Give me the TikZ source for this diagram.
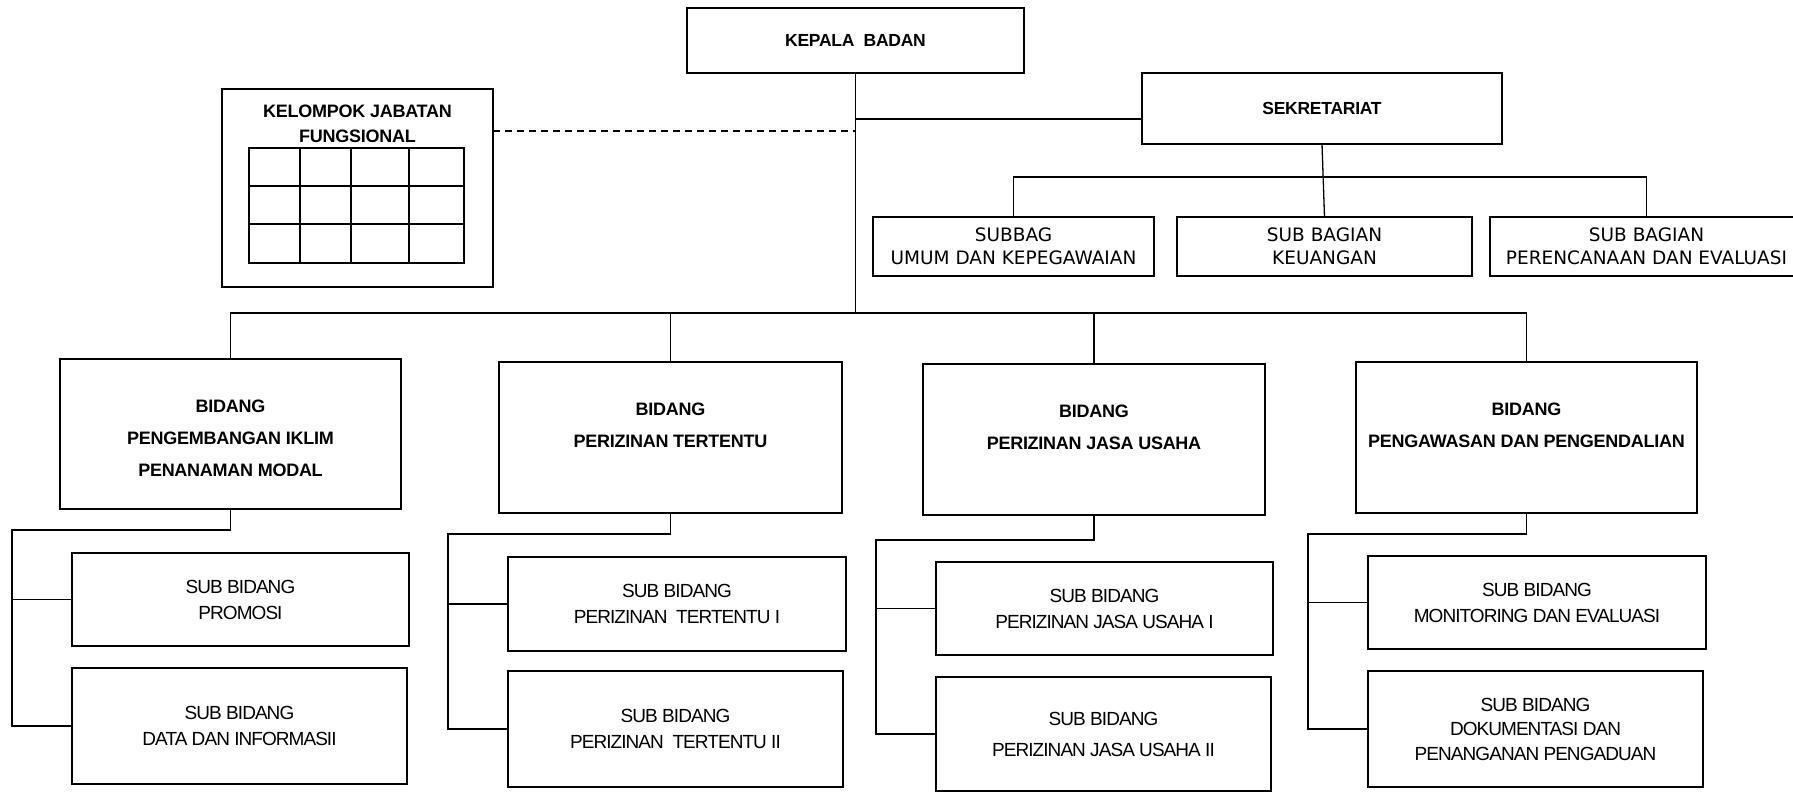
\documentclass[tikz,border=0pt]{standalone}
\usepackage{fontspec}
\setmainfont{Liberation Sans}
\newfontfamily\boldsans{Liberation Sans}[LetterSpace=-1.5]
\newfontfamily\narrowsans{Liberation Sans}[LetterSpace=-5]
\newfontfamily\verasans{DejaVu Sans}
\usetikzlibrary{positioning}

\tikzset{
  headbox/.style={draw, line width=2pt, inner sep=0pt, outer sep=0pt,
    font=\boldsans\bfseries\fontsize{17.5}{21}\selectfont},
  bidbox/.style={draw, line width=2pt, inner sep=0pt, outer sep=0pt},
  bidtext/.style={inner sep=0pt, outer sep=0pt, align=center,
    font=\boldsans\bfseries\fontsize{18}{32}\selectfont},
  kjftext/.style={inner sep=0pt, outer sep=0pt, align=center,
    font=\boldsans\bfseries\fontsize{18}{25}\selectfont},
  bagbox/.style={draw, line width=1.7pt, inner sep=0pt, outer sep=0pt,
    minimum height=59pt, align=center,
    font=\verasans\fontsize{18.5}{23}\selectfont},
  subbox/.style={draw, line width=1.5pt, inner sep=0pt, outer sep=0pt,
    align=center, font=\narrowsans\fontsize{19}{26}\selectfont},
  conn/.style={line width=1.3pt},
  gridline/.style={line width=1.2pt}
}

\begin{document}
\begin{tikzpicture}[x=1pt, y=-1pt]
  \clip (0,0) rectangle (1793,792);

  % pimpinan dan sekretariat
  \node[headbox, minimum width=337pt, minimum height=65pt] (kepala) at (855.5,40.5) {KEPALA~~BADAN};
  \node[headbox, minimum width=360pt, minimum height=71pt] (sekre) at (1322,108.5) {SEKRETARIAT};

  % kelompok jabatan fungsional
  \node[bidbox, minimum width=271pt, minimum height=198pt] (kjf) at (357.5,188) {};
  \node[kjftext, below=15.5pt of kjf.north] (kjflabel) {KELOMPOK JABATAN\\FUNGSIONAL};
  \draw[gridline] (249,148) rectangle (464,263);
  \foreach \x in {300,351,409}
    \draw[gridline] (\x,148) -- (\x,263);
  \foreach \y in {186,224}
    \draw[gridline] (249,\y) -- (464,\y);

  % sub bagian sekretariat
  \node[bagbox, minimum width=281pt] (sb1) at (1013.5,246.5) {SUBBAG\\UMUM DAN KEPEGAWAIAN};
  \node[bagbox, minimum width=295pt] (sb2) at (1324.5,246.5) {SUB BAGIAN\\KEUANGAN};
  \node[bagbox, minimum width=313pt] (sb3) at (1646.5,246.5) {SUB BAGIAN\\PERENCANAAN DAN EVALUASI};

  % bidang
  \node[bidbox, minimum width=341pt, minimum height=150pt] (b1) at (230.5,434) {};
  \node[bidtext, below=40.5pt of b1.north] (b1t) {BIDANG\\PENGEMBANGAN IKLIM\\PENANAMAN MODAL};
  \node[bidbox, minimum width=343pt, minimum height=151pt] (b2) at (670.5,437.5) {};
  \node[bidtext, below=40.5pt of b2.north] (b2t) {BIDANG\\PERIZINAN TERTENTU};
  \node[bidbox, minimum width=342pt, minimum height=151pt] (b3) at (1094,439.5) {};
  \node[bidtext, below=40.5pt of b3.north] (b3t) {BIDANG\\PERIZINAN JASA USAHA};
  \node[bidbox, minimum width=341pt, minimum height=151pt] (b4) at (1526.5,437.5) {};
  \node[bidtext, below=40.5pt of b4.north] (b4t) {BIDANG\\PENGAWASAN DAN PENGENDALIAN};

  % sub bidang
  \node[subbox, minimum width=337pt, minimum height=93pt] (s11) at (240.5,599.5) {SUB BIDANG\\PROMOSI};
  \node[subbox, minimum width=335pt, minimum height=116pt] (s12) at (239.5,726) {SUB BIDANG\\DATA DAN INFORMASII};
  \node[subbox, minimum width=338pt, minimum height=94pt] (s21) at (677,604) {SUB BIDANG\\PERIZINAN~~TERTENTU I};
  \node[subbox, minimum width=335pt, minimum height=116pt] (s22) at (675.5,729) {SUB BIDANG\\PERIZINAN~~TERTENTU II};
  \node[subbox, minimum width=337pt, minimum height=93pt] (s31) at (1104.5,608.5) {SUB BIDANG\\PERIZINAN JASA USAHA I};
  \node[subbox, minimum width=335pt, minimum height=114pt] (s32) at (1103.5,734) {SUB BIDANG\\[5pt]PERIZINAN JASA USAHA II};
  \node[subbox, minimum width=338pt, minimum height=93pt] (s41) at (1537,602.5) {SUB BIDANG\\MONITORING DAN EVALUASI};
  \node[subbox, minimum width=335pt, minimum height=116pt] (s42) at (1535.5,729) {SUB BIDANG\\[-1.5pt]DOKUMENTASI DAN\\[-1.5pt]PENANGANAN PENGADUAN};

  % garis komando
  \coordinate (bus) at (855.5,313);
  \coordinate (sekin) at (1142,119);
  \coordinate (kjfout) at (493,131);
  \draw[conn] (kepala.south) -- (bus);
  \draw[conn] (b1.north) |- (bus) -| (b4.north);
  \draw[conn] (b2.north) -- (b2.north |- bus);
  \draw[conn] (b3.north) -- (b3.north |- bus);
  \draw[conn] (kepala.south |- sekin) -- (sekin);
  \draw[conn, dash pattern=on 7pt off 5pt] (kjfout) -- (kepala.south |- kjfout);

  \draw[conn] (sekre.south) -- (sb2.north);
  \draw[conn] (sb1.north) -- ++(0,-40) -| (sb3.north);

  \draw[conn] (b1.south) -- ++(0,21) -| ([xshift=-60pt]s12.west) -- (s12.west);
  \draw[conn] ([xshift=-60pt]s11.west) -- (s11.west);
  \draw[conn] (b2.south) -- ++(0,21) -| ([xshift=-60pt]s22.west) -- (s22.west);
  \draw[conn] ([xshift=-60pt]s21.west) -- (s21.west);
  \draw[conn] (b3.south) -- ++(0,25) -| ([xshift=-60pt]s32.west) -- (s32.west);
  \draw[conn] ([xshift=-60pt]s31.west) -- (s31.west);
  \draw[conn] (b4.south) -- ++(0,21) -| ([xshift=-60pt]s42.west) -- (s42.west);
  \draw[conn] ([xshift=-60pt]s41.west) -- (s41.west);
\end{tikzpicture}
\end{document}
